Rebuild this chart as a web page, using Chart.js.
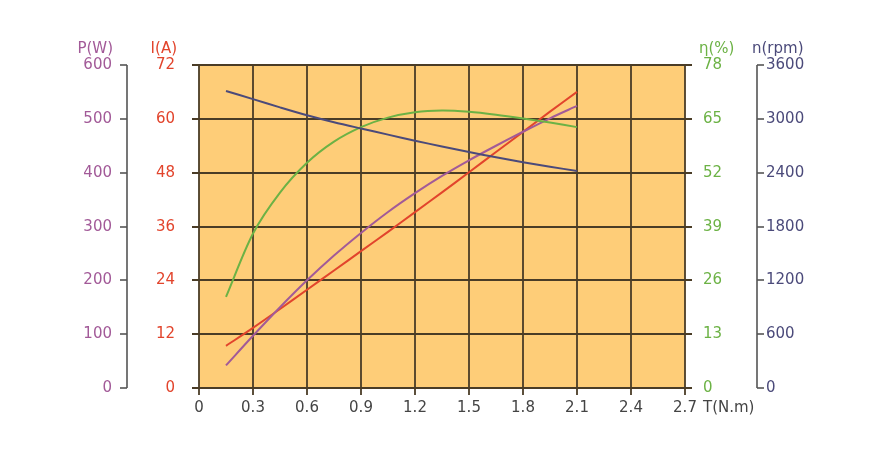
<!DOCTYPE html>
<html>
<head>
<meta charset="utf-8">
<script src="https://cdn.jsdelivr.net/npm/chart.js@4.4.1/dist/chart.umd.min.js"></script>
<style>
  html, body { margin: 0; padding: 0; background: #ffffff; }
  #wrap { width: 889px; height: 470px; }
</style>
</head>
<body>
<div id="wrap"><canvas id="perfChart"></canvas></div>
<script>
// torque points (N.m) where the curves were read
const torque = [0.15, 0.3, 0.45, 0.6, 0.75, 0.9, 1.05, 1.2, 1.35, 1.5, 1.65, 1.8, 1.95, 2.1];

const speedRpm   = [3310, 3220, 3128, 3040, 2962, 2892, 2824, 2756, 2692, 2630, 2572, 2517, 2466, 2419];
const currentA   = [9.4, 13.4, 17.6, 21.9, 26.2, 30.5, 34.8, 39.2, 43.6, 48.1, 52.6, 57.1, 61.6, 66.0];
const powerW     = [42, 97, 150, 200, 246, 288, 327, 362, 394, 423, 450, 476, 501, 524];
const efficiency = [22.0, 37.3, 47.2, 54.4, 59.5, 63.0, 65.3, 66.6, 67.0, 66.7, 66.0, 65.1, 64.1, 63.0];

// tick labels for each axis
const xTicks   = [0, 0.3, 0.6, 0.9, 1.2, 1.5, 1.8, 2.1, 2.4, 2.7];
const pTicks   = [0, 100, 200, 300, 400, 500, 600];
const iTicks   = [0, 12, 24, 36, 48, 60, 72];
const effTicks = [0, 13, 26, 39, 52, 65, 78];
const nTicks   = [0, 600, 1200, 1800, 2400, 3000, 3600];

const COL_P = '#a25a98';
const COL_I = '#e2442c';
const COL_E = '#6cb245';
const COL_N = '#4b4a7a';
const GRID = '#4a3c26';
const FONT = '15px "DejaVu Sans"';

const toPoints = (ys) => torque.map((t, i) => ({ x: t, y: ys[i] }));

// axes, grid and labels drawn from the chart's own scales
const axesPlugin = {
    id: 'motorAxes',
    beforeDatasetsDraw: (chart) => {
        const { ctx, chartArea: { top, bottom, left, right }, scales } = chart;
        const x = scales.x;
        ctx.save();
        ctx.fillStyle = '#fecd78';
        ctx.fillRect(left, top, right - left, bottom - top);

        ctx.strokeStyle = GRID;
        ctx.lineWidth = 1.8;
        // vertical grid + x ticks
        xTicks.forEach(v => {
            const px = Math.round(x.getPixelForValue(v));
            ctx.beginPath();
            ctx.moveTo(px, top);
            ctx.lineTo(px, bottom + 7);
            ctx.stroke();
        });
        // horizontal grid, extended as I and eta ticks
        iTicks.forEach(v => {
            const py = Math.round(scales.yI.getPixelForValue(v));
            ctx.beginPath();
            ctx.moveTo(left - 7, py);
            ctx.lineTo(right + 7, py);
            ctx.stroke();
        });
        ctx.restore();
    },
    afterDraw: (chart) => {
        const { ctx, chartArea: { top, bottom, left, right }, scales } = chart;
        const x = scales.x;
        ctx.save();
        ctx.font = FONT;
        ctx.textBaseline = 'middle';

        // outer P axis (left) and n axis (right)
        const pAxisX = 127;
        const nAxisX = 757;
        ctx.strokeStyle = '#555555';
        ctx.lineWidth = 1.6;
        ctx.beginPath();
        ctx.moveTo(pAxisX, top);
        ctx.lineTo(pAxisX, bottom);
        ctx.moveTo(nAxisX, top);
        ctx.lineTo(nAxisX, bottom);
        ctx.stroke();

        pTicks.forEach(v => {
            const py = Math.round(scales.yP.getPixelForValue(v));
            ctx.beginPath();
            ctx.moveTo(pAxisX - 7, py);
            ctx.lineTo(pAxisX, py);
            ctx.stroke();
            ctx.fillStyle = COL_P;
            ctx.textAlign = 'right';
            ctx.fillText(String(v), pAxisX - 15, py);
        });
        nTicks.forEach(v => {
            const py = Math.round(scales.yN.getPixelForValue(v));
            ctx.beginPath();
            ctx.moveTo(nAxisX, py);
            ctx.lineTo(nAxisX + 7, py);
            ctx.stroke();
            ctx.fillStyle = COL_N;
            ctx.textAlign = 'left';
            ctx.fillText(String(v), nAxisX + 9, py);
        });
        iTicks.forEach(v => {
            const py = Math.round(scales.yI.getPixelForValue(v));
            ctx.fillStyle = COL_I;
            ctx.textAlign = 'right';
            ctx.fillText(String(v), left - 24, py);
        });
        effTicks.forEach(v => {
            const py = Math.round(scales.yE.getPixelForValue(v));
            ctx.fillStyle = COL_E;
            ctx.textAlign = 'left';
            ctx.fillText(String(v), right + 18, py);
        });

        // x tick labels
        ctx.fillStyle = '#444444';
        ctx.textAlign = 'center';
        xTicks.forEach(v => {
            const px = x.getPixelForValue(v);
            ctx.fillText(String(v), px, bottom + 20);
        });
        ctx.textAlign = 'left';
        ctx.fillText('T(N.m)', right + 18, bottom + 20);

        // axis titles
        const ty = top - 16;
        ctx.textAlign = 'right';
        ctx.fillStyle = COL_P;
        ctx.fillText('P(W)', 113, ty);
        ctx.fillStyle = COL_I;
        ctx.fillText('I(A)', 177, ty);
        ctx.textAlign = 'left';
        ctx.fillStyle = COL_E;
        ctx.fillText('η(%)', 699, ty);
        ctx.fillStyle = COL_N;
        ctx.fillText('n(rpm)', 752, ty);
        ctx.restore();
    }
};

const ctx = document.getElementById('perfChart').getContext('2d');
const lineStyle = { fill: false, borderWidth: 2, pointRadius: 0, tension: 0.3 };

new Chart(ctx, {
    type: 'line',
    plugins: [axesPlugin],
    data: {
        datasets: [
            { label: 'n(rpm)', data: toPoints(speedRpm), borderColor: COL_N, yAxisID: 'yN', ...lineStyle },
            { label: 'η(%)', data: toPoints(efficiency), borderColor: COL_E, yAxisID: 'yE', ...lineStyle },
            { label: 'P(W)', data: toPoints(powerW), borderColor: COL_P, yAxisID: 'yP', ...lineStyle },
            { label: 'I(A)', data: toPoints(currentA), borderColor: COL_I, yAxisID: 'yI', ...lineStyle }
        ]
    },
    options: {
        responsive: true,
        maintainAspectRatio: false,
        animation: false,
        layout: { padding: { left: 199, right: 204, top: 65, bottom: 82 } },
        plugins: { legend: { display: false }, tooltip: { enabled: false } },
        scales: {
            x: { type: 'linear', min: 0, max: 2.7, display: false },
            yP: { type: 'linear', min: 0, max: 600, display: false },
            yI: { type: 'linear', min: 0, max: 72, display: false },
            yE: { type: 'linear', min: 0, max: 78, display: false },
            yN: { type: 'linear', min: 0, max: 3600, display: false }
        }
    }
});
</script>
</body>
</html>
